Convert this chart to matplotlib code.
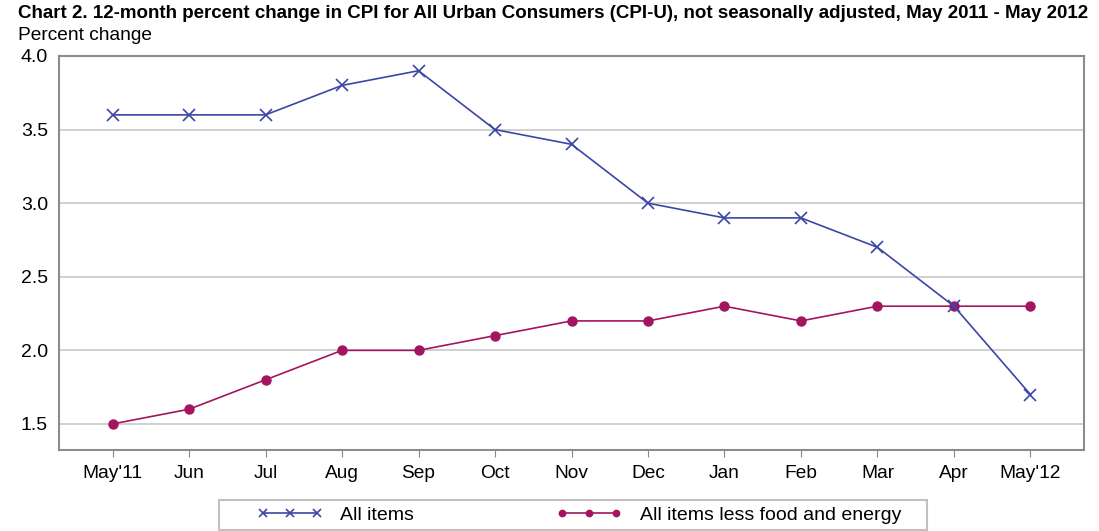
import matplotlib
matplotlib.use("Agg")
import matplotlib.pyplot as plt
from matplotlib.patches import Rectangle

plt.rcParams["font.family"] = ["Liberation Sans", "DejaVu Sans"]

months = ["May'11", "Jun", "Jul", "Aug", "Sep", "Oct", "Nov", "Dec",
          "Jan", "Feb", "Mar", "Apr", "May'12"]
all_items = [3.6, 3.6, 3.6, 3.8, 3.9, 3.5, 3.4, 3.0, 2.9, 2.9, 2.7, 2.3, 1.7]
core = [1.5, 1.6, 1.8, 2.0, 2.0, 2.1, 2.2, 2.2, 2.3, 2.2, 2.3, 2.3, 2.3]
yticks = [1.5, 2.0, 2.5, 3.0, 3.5, 4.0]

BLUE = "#3c46a6"
MAG = "#a3155f"
W, H = 1099, 531

fig = plt.figure(figsize=(W / 100, H / 100), dpi=100)
ax = fig.add_axes([59 / W, 1 - 450 / H, (1084 - 59) / W, (450 - 56) / H])

x = range(len(months))
ax.plot(x, core, color=MAG, lw=1.2, marker="o", ms=6.5, label="All items less food and energy", zorder=3)
ax.plot(x, all_items, color=BLUE, lw=1.2, marker="x", ms=8, mew=1.2, label="All items", zorder=4)

ax.set_xlim(-0.7, 12.7)
ax.set_ylim(1.323, 4.0)
ax.set_yticks(yticks)
ax.set_yticklabels([f"{v:.1f}" for v in yticks])
ax.set_xticks(list(x))
ax.set_xticklabels(months)
ax.tick_params(axis="y", length=0, pad=8, labelsize=14)
ax.tick_params(axis="x", length=5, color="#888888", pad=6, labelsize=13.8)
ax.grid(axis="y", color="#c8c8c8", lw=1.2)
ax.set_axisbelow(True)
for s in ax.spines.values():
    s.set_color("#8c8c8c")
    s.set_linewidth(1.5)

fig.text(18 / W, 1 - 14 / H, "Chart 2. 12-month percent change in CPI for All Urban Consumers (CPI-U), not seasonally adjusted, May 2011 - May 2012",
         fontsize=13.5, fontweight="bold", va="center", ha="left")
fig.text(18 / W, 1 - 35 / H, "Percent change", fontsize=13.8, va="center", ha="left")

# legend box drawn separately so it can be wide and flat
fig.add_artist(Rectangle((219 / W, 1 - 530 / H), (927 - 219) / W, 30 / H, transform=fig.transFigure,
                         facecolor="white", edgecolor="#c0c0c0", lw=1.5))
h, l = ax.get_legend_handles_labels()
leg = fig.legend(h[::-1], l[::-1], loc="center left", bbox_to_anchor=(245 / W, 1 - 515 / H),
                 ncol=2, numpoints=3, fontsize=14, frameon=False, markerscale=0.7,
                 columnspacing=7.3, handlelength=3.4, handletextpad=0.9, borderpad=0.1)

fig.savefig("out.png", dpi=100)
